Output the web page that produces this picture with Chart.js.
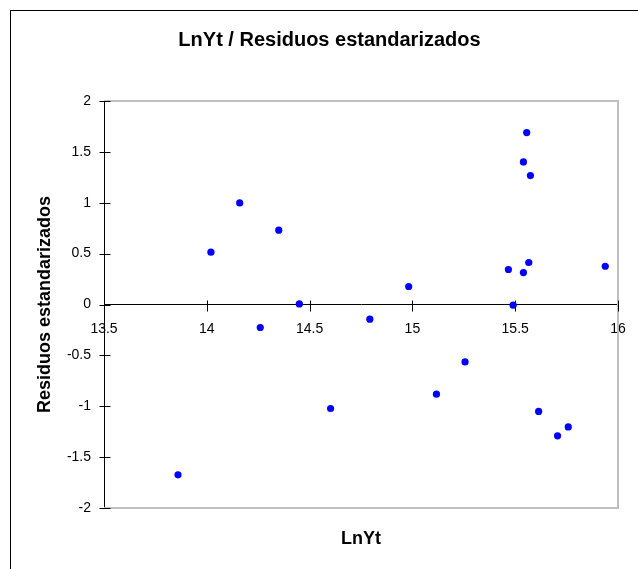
<!DOCTYPE html>
<html>
<head>
<meta charset="utf-8">
<script src="https://cdn.jsdelivr.net/npm/chart.js@4/dist/chart.umd.min.js"></script>
<style>
  html, body { margin: 0; padding: 0; background: #fff; }
  #wrap { position: relative; width: 638px; height: 569px; }
</style>
</head>
<body>
<div id="wrap"><canvas id="residualChart"></canvas></div>
<script>
// Data
const lnYt = [14.02, 14.16, 14.35, 14.45, 14.26, 15.556, 15.54, 15.574, 15.566, 15.467, 15.54,
              15.938, 14.982, 15.49, 14.793, 13.86, 14.602, 15.256, 15.117, 15.614, 15.706, 15.758];
const residuos = [0.514, 0.998, 0.73, 0.006, -0.226, 1.69, 1.401, 1.267, 0.413, 0.344, 0.314,
                  0.376, 0.177, -0.007, -0.144, -1.674, -1.022, -0.564, -0.881, -1.051, -1.291, -1.203];

// Tick labels
const xTicks = [13.5, 14, 14.5, 15, 15.5, 16];
const yTicks = [-2, -1.5, -1, -0.5, 0, 0.5, 1, 1.5, 2];

const points = lnYt.map((x, i) => ({ x: x, y: residuos[i] }));
const fontFamily = '"Liberation Sans", Arial, sans-serif';

// Outer frame, plot area frame and crossing tick marks
const framePlugin = {
  id: 'frame',
  beforeDraw(chart) {
    const ctx = chart.ctx;
    ctx.save();
    ctx.strokeStyle = '#000';
    ctx.lineWidth = 1;
    ctx.strokeRect(10.5, 10.5, 1000, 1000);
    ctx.restore();
  },
  beforeDatasetsDraw(chart) {
    const { ctx, chartArea: a, scales } = chart;
    ctx.save();
    ctx.strokeStyle = '#c0c0c0';
    ctx.lineWidth = 2;
    ctx.beginPath();
    ctx.moveTo(a.left, a.top);
    ctx.lineTo(a.right, a.top);
    ctx.lineTo(a.right, a.bottom);
    ctx.lineTo(a.left, a.bottom);
    ctx.stroke();

    ctx.strokeStyle = '#000';
    ctx.lineWidth = 1;
    const y0 = Math.round(scales.y.getPixelForValue(0)) + 0.5;
    const xl = Math.round(a.left) + 0.5;
    ctx.beginPath();
    xTicks.forEach(v => {
      const px = Math.round(scales.x.getPixelForValue(v)) + 0.5;
      ctx.moveTo(px, y0 - 5);
      ctx.lineTo(px, y0 + 6);
    });
    yTicks.forEach(v => {
      const py = Math.round(scales.y.getPixelForValue(v)) + 0.5;
      ctx.moveTo(xl - 5, py);
      ctx.lineTo(xl + 6, py);
    });
    ctx.stroke();
    ctx.restore();
  }
};

const fmt = v => String(Number(v.toFixed(1)));

new Chart(document.getElementById('residualChart'), {
  type: 'scatter',
  data: {
    datasets: [{
      label: 'Residuos',
      data: points,
      backgroundColor: '#0000ff',
      borderWidth: 0,
      pointRadius: 3.6,
      pointHoverRadius: 3.6
    }]
  },
  options: {
    responsive: true,
    maintainAspectRatio: false,
    animation: false,
    layout: { padding: { left: 41, right: 20, top: 0, bottom: 0 } },
    plugins: {
      legend: { display: false },
      tooltip: { enabled: false },
      title: {
        display: true,
        text: 'LnYt / Residuos estandarizados',
        color: '#000',
        font: { family: fontFamily, size: 20, weight: 'bold' },
        padding: { top: 28.3, bottom: 48.7 }
      },
      subtitle: {
        display: true,
        position: 'bottom',
        fullSize: false,
        text: 'LnYt',
        color: '#000',
        font: { family: fontFamily, size: 18, weight: 'bold' },
        padding: { top: 20.7, bottom: 18.7 }
      }
    },
    scales: {
      x: {
        type: 'linear',
        position: { y: 0 },
        min: 13.5,
        max: 16,
        afterBuildTicks: scale => { scale.ticks = xTicks.map(v => ({ value: v })); },
        grid: { display: false, drawTicks: true, tickLength: 5 },
        border: { display: true, color: '#000', width: 1 },
        ticks: {
          color: '#000',
          padding: 11,
          maxRotation: 0,
          font: { family: fontFamily, size: 14 },
          callback: v => fmt(v)
        }
      },
      y: {
        type: 'linear',
        position: 'left',
        min: -2,
        max: 2,
        afterBuildTicks: scale => { scale.ticks = yTicks.map(v => ({ value: v })); },
        afterFit: scale => { scale.width = 63; },
        grid: { display: false, drawTicks: true, tickLength: 5 },
        border: { display: true, color: '#000', width: 1 },
        ticks: {
          color: '#000',
          padding: 8,
          font: { family: fontFamily, size: 14 },
          callback: v => fmt(v)
        },
        title: {
          display: true,
          text: 'Residuos estandarizados',
          color: '#000',
          font: { family: fontFamily, size: 18, weight: 'bold' },
          padding: { top: -6.8, bottom: 0 }
        }
      }
    }
  },
  plugins: [framePlugin]
});
</script>
</body>
</html>
